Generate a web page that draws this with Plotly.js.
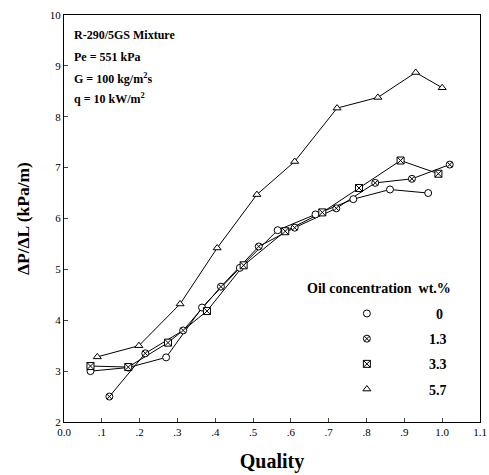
<!DOCTYPE html>
<html><head><meta charset="utf-8">
<script src="https://cdn.plot.ly/plotly-3.0.1.min.js"></script>
<style>html,body{margin:0;padding:0;background:#fff}</style>
</head><body><div id="chart" style="width:489px;height:475px"></div>
<script>
const oilLabels = ['0', '1.3', '3.3', '5.7'];
const quality_0  = [0.07, 0.17, 0.27, 0.365, 0.465, 0.565, 0.665, 0.765, 0.862, 0.963];
const dpdl_0     = [3.00, 3.07, 3.27, 4.25, 5.03, 5.77, 6.08, 6.38, 6.57, 6.50];
const quality_13 = [0.12, 0.215, 0.315, 0.415, 0.515, 0.61, 0.72, 0.823, 0.92, 1.02];
const dpdl_13    = [2.50, 3.35, 3.80, 4.66, 5.45, 5.82, 6.20, 6.70, 6.78, 7.06];
const quality_33 = [0.07, 0.17, 0.275, 0.378, 0.475, 0.585, 0.683, 0.78, 0.89, 0.99];
const dpdl_33    = [3.10, 3.08, 3.56, 4.18, 5.08, 5.75, 6.12, 6.60, 7.14, 6.88];
const quality_57 = [0.088, 0.198, 0.307, 0.405, 0.51, 0.61, 0.722, 0.83, 0.93, 1.00];
const dpdl_57    = [3.28, 3.50, 4.32, 5.42, 6.47, 7.12, 8.17, 8.38, 8.87, 8.57];
const xTickVals = [0, 0.1, 0.2, 0.3, 0.4, 0.5, 0.6, 0.7, 0.8, 0.9, 1.0, 1.1];
const xTickText = ['0.0', '.1', '.2', '.3', '.4', '.5', '.6', '.7', '.8', '.9', '1.0', '1.1'];
const yTickVals = [2, 3, 4, 5, 6, 7, 8, 9, 10];

const xs = [quality_0, quality_13, quality_33, quality_57];
const ys = [dpdl_0, dpdl_13, dpdl_33, dpdl_57];
const symbols = ['circle', 'circle-x', 'square-x', 'triangle-up'];
const serif = 'Liberation Serif, Times New Roman, serif';
const padFor = (s) => '\u00a0'.repeat(s.length > 1 ? 12 : 14);

const traces = [];
for (let i = 0; i < 4; i++) {
  traces.push({x: xs[i], y: ys[i], type: 'scatter', mode: 'lines', showlegend: false,
    line: {color: '#000', width: 1}, hoverinfo: 'skip'});
}
for (let i = 0; i < 4; i++) {
  traces.push({x: xs[i], y: ys[i], type: 'scatter', mode: 'markers', name: padFor(oilLabels[i]) + oilLabels[i],
    legendgroup: 'g' + i,
    marker: {symbol: symbols[i], size: 7, color: '#fff', line: {color: '#000', width: 1}}});
}

const infoFont = {family: serif, size: 12, weight: 'bold'};
const layout = {
  width: 489, height: 475,
  margin: {l: 64, r: 9, t: 15, b: 53},
  paper_bgcolor: '#fff', plot_bgcolor: '#fff',
  font: {family: serif, color: '#000', size: 11},
  showlegend: true,
  legend: {x: 0.68, y: 0.305, xanchor: 'left', yanchor: 'top', bgcolor: 'rgba(0,0,0,0)',
    traceorder: 'grouped', tracegroupgap: 4,
    font: {family: serif, size: 14, weight: 'bold', color: '#000'}},
  xaxis: {range: [0, 1.1], tickvals: xTickVals, ticktext: xTickText, ticks: 'inside', ticklen: 4,
    showgrid: false, zeroline: false, showline: true, mirror: true, linecolor: '#000', linewidth: 1,
    tickfont: {family: serif, size: 11},
    title: {text: 'Quality', font: {family: serif, size: 20, weight: 'bold'}, standoff: 16}},
  yaxis: {range: [2, 10], tickvals: yTickVals, ticks: 'inside', ticklen: 4,
    showgrid: false, zeroline: false, showline: true, mirror: true, linecolor: '#000', linewidth: 1,
    tickfont: {family: serif, size: 11},
    title: {text: '\u0394P/\u0394L (kPa/m)', font: {family: serif, size: 17.5, weight: 'bold'}, standoff: 15}},
  annotations: [
    {xref: 'paper', yref: 'paper', x: 0.02, y: 0.95, xanchor: 'left', yanchor: 'middle', showarrow: false,
      text: 'R-290/5GS Mixture', font: infoFont},
    {xref: 'paper', yref: 'paper', x: 0.02, y: 0.898, xanchor: 'left', yanchor: 'middle', showarrow: false,
      text: 'Pe = 551 kPa', font: infoFont},
    {xref: 'paper', yref: 'paper', x: 0.02, y: 0.845, xanchor: 'left', yanchor: 'middle', showarrow: false,
      text: 'G = 100 kg/m<sup>2</sup>s', font: infoFont},
    {xref: 'paper', yref: 'paper', x: 0.02, y: 0.795, xanchor: 'left', yanchor: 'middle', showarrow: false,
      text: 'q = 10 kW/m<sup>2</sup>', font: infoFont},
    {xref: 'paper', yref: 'paper', x: 0.58, y: 0.329, xanchor: 'left', yanchor: 'middle', showarrow: false,
      text: 'Oil concentration\u00a0\u00a0wt.%', font: {family: serif, size: 14, weight: 'bold'}}
  ]
};
Plotly.newPlot('chart', traces, layout, {displayModeBar: false, staticPlot: true});
</script></body></html>
